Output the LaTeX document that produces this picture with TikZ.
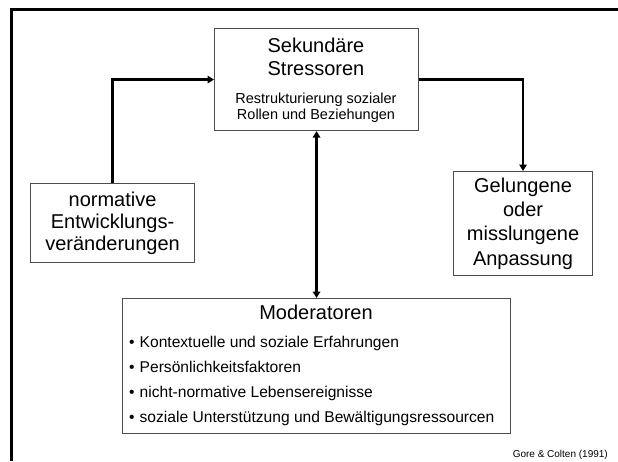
\documentclass[tikz,border=0pt]{standalone}
\usepackage{fontspec}
\setmainfont{Liberation Sans}
\usetikzlibrary{arrows.meta}
\begin{document}
\begin{tikzpicture}[x=1pt,y=-1pt,
  box/.style={draw=black!70,line width=1.1pt,inner sep=0pt,anchor=north west,align=center},
  conn/.style={line width=2.6pt,draw=black},
  tip/.tip={Triangle[length=6.5pt,width=7.5pt]},
  bullet/.style={anchor=base west,inner sep=0pt,font=\fontsize{15.6}{18}\selectfont}]
\useasboundingbox (0,0) rectangle (618,461);
\fill[white] (0,0) rectangle (618,461);
% frame
\draw[line width=2.8pt,line join=miter] (11.7,461) -- (11.7,9.5) -- (618,9.5);
% boxes
\node[box,minimum width=204pt,minimum height=102pt] (tbox) at (214,28) {};
\node[inner sep=0pt,align=center,font=\fontsize{20}{23}\selectfont] (ttitle) at (316,56.5) {Sekundäre\\Stressoren};
\node[inner sep=0pt,align=center,font=\fontsize{14.5}{16}\selectfont] (tsub) at (316,108) {Restrukturierung sozialer\\Rollen und Beziehungen};
\node[box,minimum width=164pt,minimum height=79pt,font=\fontsize{20}{22}\selectfont] (lbox) at (30,183) {normative\\Entwicklungs-\\veränderungen};
\node[box,minimum width=139pt,minimum height=104pt,font=\fontsize{20}{24.3}\selectfont] (rbox) at (453,171) {Gelungene\\oder\\misslungene\\Anpassung};
\node[box,minimum width=388pt,minimum height=135pt] (mbox) at (122,298) {};
\node[anchor=base,inner sep=0pt,font=\fontsize{20}{23}\selectfont] (mtitle) at (316,319) {Moderatoren};
\node[bullet] (b1) at (129,347) {\makebox[10.5pt][l]{•}Kontextuelle und soziale Erfahrungen};
\node[bullet] (b2) at (129,372) {\makebox[10.5pt][l]{•}Persönlichkeitsfaktoren};
\node[bullet] (b3) at (129,397) {\makebox[10.5pt][l]{•}nicht-normative Lebensereignisse};
\node[bullet] (b4) at (129,422) {\makebox[10.5pt][l]{•}soziale Unterstützung und Bewältigungsressourcen};
\node[anchor=base east,inner sep=0pt,font=\fontsize{10}{12}\selectfont] (src) at (608,457) {Gore \& Colten (1991)};
% connectors
\draw[conn,-tip] (lbox.north) |- (tbox.west);
\draw[conn,-tip] (tbox.east) -| (rbox.north);
\draw[conn,tip-tip] (tbox.south) -- (mbox.north);
\end{tikzpicture}
\end{document}
